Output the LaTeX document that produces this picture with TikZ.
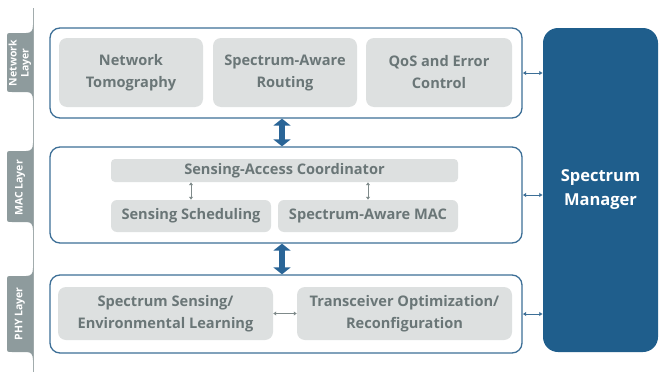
\documentclass[tikz,border=0pt]{standalone}
\usepackage{fontspec}
\setmainfont{Open Sans}
\usetikzlibrary{arrows.meta}
\definecolor{boxfill}{HTML}{DDE0E0}
\definecolor{boxtext}{HTML}{6A7677}
\definecolor{layerline}{HTML}{3D6F97}
\definecolor{mgrfill}{HTML}{1F5E8C}
\definecolor{tabfill}{HTML}{8E9B9D}
\definecolor{sideline}{HTML}{A2ACAD}
\definecolor{bigarr}{HTML}{2A6597}
\definecolor{smallarr}{HTML}{7F8A8A}
\tikzset{
  layerbox/.style={draw=layerline, line width=1.3pt, rounded corners=10pt, fill=white, inner sep=0pt},
  innerbox/.style={fill=boxfill, rounded corners=8pt, text=boxtext, font=\fontsize{14.6}{22}\selectfont\bfseries, align=center, inner sep=0pt},
  mgrbox/.style={fill=mgrfill, rounded corners=15pt, text=white, font=\fontsize{16.5}{24}\selectfont\bfseries, align=center, inner sep=0pt},
  tablabel/.style={text=white, font=\fontsize{10.5}{12}\selectfont\bfseries, align=center, rotate=90, inner sep=0pt},
  bigarrow/.style={draw=bigarr, line width=6pt, {Triangle[length=7pt,width=17pt]}-{Triangle[length=7pt,width=17pt]}},
  sidearrow/.style={draw=layerline, line width=1pt, {Latex[length=3.5pt,width=4.5pt]}-{Latex[length=3.5pt,width=4.5pt]}},
  grayarrow/.style={draw=smallarr, line width=1pt, {Latex[length=3pt,width=4.5pt]}-{Latex[length=3pt,width=4.5pt]}},
}
\newcommand\mytab[2]{%
  \fill[tabfill] (33,#1) .. controls (33,{#1+6}) and (31,{#1+8}) .. (26,{#1+8})
    -- (12,{#1+8}) .. controls (7,{#1+8}) .. (7,{#1+13})
    -- (7,{#2-13}) .. controls (7,{#2-8}) .. (12,{#2-8})
    -- (26,{#2-8})
    .. controls (31,{#2-8}) and (33,{#2-6}) .. (33,#2) -- cycle;}
\begin{document}
\begin{tikzpicture}[x=1pt,y=-1pt]
\useasboundingbox[fill=white] (0,0) rectangle (659,372);
% side bar
\draw[sideline, line width=1.6pt] (33.5,8) -- (33.5,372);
\mytab{25}{100}
\mytab{143}{230}
\mytab{268}{360}
\node[tablabel] (tnet) at (20,63) {Network\\Layer};
\node[tablabel] (tmac) at (20,188) {MAC Layer};
\node[tablabel] (tphy) at (20,314) {PHY Layer};
% layer boxes
\node[layerbox, minimum width=472pt, minimum height=90pt] (net) at (286,73) {};
\node[layerbox, minimum width=472pt, minimum height=96pt] (mac) at (286,195) {};
\node[layerbox, minimum width=472pt, minimum height=78pt] (phy) at (286,314) {};
% network layer
\node[innerbox, minimum width=144pt, minimum height=69pt] (nt) at (131,72.5) {Network\\Tomography};
\node[innerbox, minimum width=144pt, minimum height=69pt] (sar) at (285,72.5) {Spectrum-Aware\\Routing};
\node[innerbox, minimum width=146pt, minimum height=69pt] (qos) at (439,72.5) {QoS and Error\\Control};
% MAC layer
\node[innerbox, rounded corners=4pt, minimum width=347pt, minimum height=23pt] (sac) at (284.5,170.5) {Sensing-Access Coordinator};
\node[innerbox, rounded corners=6pt, minimum width=160pt, minimum height=32pt] (ss) at (191,216) {Sensing Scheduling};
\node[innerbox, rounded corners=6pt, minimum width=180pt, minimum height=32pt] (sam) at (368,216) {Spectrum-Aware MAC};
% PHY layer
\node[innerbox, minimum width=215pt, minimum height=53pt] (sens) at (165.5,313.5) {Spectrum Sensing/\\Environmental Learning};
\node[innerbox, minimum width=215pt, minimum height=53pt] (trx) at (404.5,313.5) {Transceiver Optimization/\\Reconfiguration};
% manager
\node[mgrbox, minimum width=115pt, minimum height=324pt] (mgr) at (600.5,190) {Spectrum\\Manager};
% arrows
\draw[bigarrow] ([xshift=-4pt]net.south) -- ([xshift=-4pt]mac.north);
\draw[bigarrow] ([xshift=-4pt]mac.south) -- ([xshift=-4pt]phy.north);
\draw[sidearrow] (net.east) -- (net.east -| mgr.west);
\draw[sidearrow] (mac.east) -- (mac.east -| mgr.west);
\draw[sidearrow] (phy.east) -- (phy.east -| mgr.west);
\draw[grayarrow] (sac.south -| ss.north) -- (ss.north);
\draw[grayarrow] (sac.south -| sam.north) -- (sam.north);
\draw[grayarrow] (sens.east) -- (trx.west);
\end{tikzpicture}
\end{document}
